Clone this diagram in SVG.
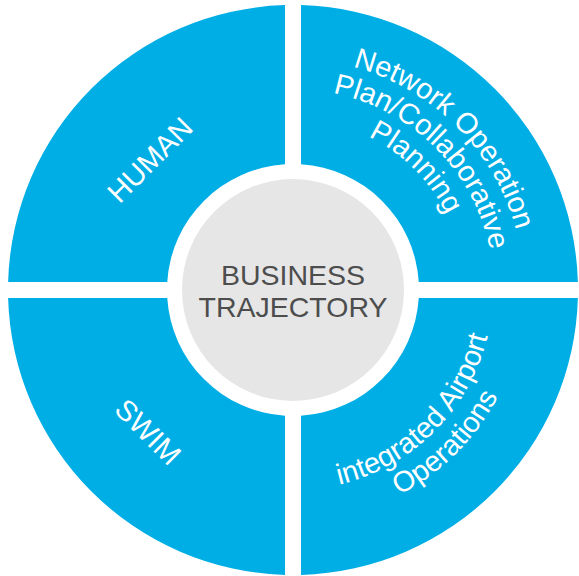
<svg xmlns="http://www.w3.org/2000/svg" width="579" height="576" viewBox="0 0 579 576">
  <style>
    .quad { fill: #00AEE6; }
    .hub { fill: #E6E6E6; }
    .qtext { font-family: "Liberation Sans", Arial, Helvetica, sans-serif; font-size: 29px; fill: #FFFFFF; }
    .htext { font-family: "Liberation Sans", Arial, Helvetica, sans-serif; font-size: 28.5px; fill: #4D4D4D; text-anchor: middle; }
  </style>
  <defs>
    <!-- baseline arcs for the upper-right quadrant (clockwise, letters face outward) -->
    <path id="arcTR1" d="M 293 59 A 231 231 0 0 1 524 290"/>
    <path id="arcTR2" d="M 293 89 A 201 201 0 0 1 494 290"/>
    <path id="arcTR3" d="M 293 119 A 171 171 0 0 1 464 290"/>
    <!-- baseline arcs for the lower-right quadrant (counter-clockwise, letters face the hub) -->
    <path id="arcBR1" d="M 293 490 A 200 200 0 0 0 493 290"/>
    <path id="arcBR2" d="M 293 521 A 231 231 0 0 0 524 290"/>
  </defs>

  <rect width="579" height="576" fill="#FFFFFF"/>

  <g id="connectors"/>

  <g id="human">
    <path class="quad" d="M 285 5.11 A 285 285 0 0 0 8.11 282 L 167.25 282 A 126 126 0 0 1 285 164.25 Z"/>
    <text class="qtext" text-anchor="middle" transform="translate(157 167) rotate(-45)">HUMAN</text>
  </g>

  <g id="network-operation-plan">
    <path class="quad" d="M 301 5.11 L 301 164.25 A 126 126 0 0 1 418.75 282 L 577.89 282 A 285 285 0 0 0 301 5.11 Z"/>
    <text class="qtext" text-anchor="middle"><textPath href="#arcTR1" startOffset="50%">Network Operation</textPath></text>
    <text class="qtext" text-anchor="middle"><textPath href="#arcTR2" startOffset="50%">Plan/Collaborative</textPath></text>
    <text class="qtext" text-anchor="middle"><textPath href="#arcTR3" startOffset="50%">Planning</textPath></text>
  </g>

  <g id="integrated-airport-operations">
    <path class="quad" d="M 418.75 298 L 577.89 298 A 285 285 0 0 1 301 574.89 L 301 415.75 A 126 126 0 0 0 418.75 298 Z"/>
    <text class="qtext" text-anchor="middle"><textPath href="#arcBR1" startOffset="50%">integrated Airport</textPath></text>
    <text class="qtext" text-anchor="middle"><textPath href="#arcBR2" startOffset="50%">Operations</textPath></text>
  </g>

  <g id="swim">
    <path class="quad" d="M 285 415.75 L 285 574.89 A 285 285 0 0 1 8.11 298 L 167.25 298 A 126 126 0 0 0 285 415.75 Z"/>
    <text class="qtext" text-anchor="middle" transform="translate(141 439) rotate(45)">SWIM</text>
  </g>

  <g id="business-trajectory">
    <circle class="hub" cx="293" cy="290" r="111"/>
    <text class="htext" x="293" y="285">BUSINESS</text>
    <text class="htext" x="293" y="317">TRAJECTORY</text>
  </g>
</svg>
